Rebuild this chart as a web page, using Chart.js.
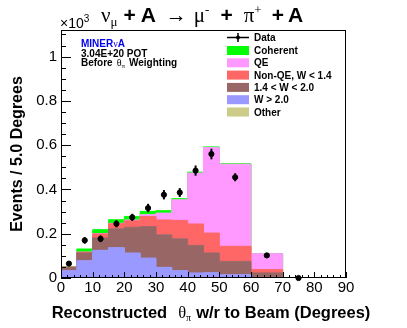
<!DOCTYPE html>
<html>
<head>
<meta charset="utf-8">
<script src="https://cdn.jsdelivr.net/npm/chart.js@4/dist/chart.umd.min.js"></script>
<style>
  html, body { margin: 0; padding: 0; background: #fff; }
  #wrap { width: 407px; height: 328px; }
</style>
</head>
<body>
<div id="wrap"><canvas id="chart" width="407" height="328"></canvas></div>
<script>
// bin edges in degrees (last bins are wider)
const binEdges = [0, 5, 10, 15, 20, 25, 30, 35, 40, 45, 50, 60, 70, 80, 90];

// MC components, events per 5 degrees, bottom to top of the stack
const otherVals    = [2, 2, 2, 2, 2, 2, 2, 2, 2, 2, 1, 1, 0, 0];
const wHighVals    = [31, 76, 123, 135, 111, 88, 46, 31, 21, 22, 14, 1, 0, 0];
const wMidVals     = [15, 35, 56, 85, 116, 142, 147, 144, 124, 89, 60, 21, 0, 0];
const nonQEVals    = [1, 3, 18, 23, 29, 46, 67, 83, 97, 90, 68, 15, 0, 0];
const qeVals       = [0, 1, 2, 2, 4, 8, 31, 93, 230, 386, 371, 72, 0, 0];
const coherentVals = [2, 14, 17, 16, 16, 15, 11, 5, 4, 3, 2, 0, 0, 0];

// data points
const dataX   = [2.5, 7.5, 12.5, 17.5, 22.5, 27.5, 32.5, 37.5, 42.5, 47.5, 55, 65, 75];
const dataY   = [65, 170, 177, 245, 274, 316, 376, 386, 485, 560, 455, 102, 0];
const dataErr = [6, 15, 15, 16, 16, 19, 21, 20, 23, 24, 18, 9, 0];

const SANS = '"Liberation Sans", Arial, Helvetica, sans-serif';
const SERIF = '"Liberation Serif", "Times New Roman", serif';

function stepPoints(vals) {
  const pts = vals.map((v, i) => ({ x: binEdges[i], y: v }));
  pts.push({ x: binEdges[binEdges.length - 1], y: vals[vals.length - 1] });
  return pts;
}

function layer(label, vals, color, fill, border) {
  return {
    label: label,
    data: stepPoints(vals),
    stepped: true,
    fill: fill,
    backgroundColor: color,
    borderColor: border || color,
    borderWidth: 1,
    pointRadius: 0,
    stack: 'mc'
  };
}

// draw a row of text pieces with different fonts
function drawRuns(ctx, runs, x, y, align) {
  ctx.textAlign = 'left';
  ctx.textBaseline = 'alphabetic';
  let total = 0;
  runs.forEach(r => {
    ctx.font = r.f;
    r.w = ctx.measureText(r.t).width;
    total += r.w + (r.gap || 0);
  });
  let cx = align === 'center' ? x - total / 2 : x;
  runs.forEach(r => {
    cx += r.gap || 0;
    ctx.font = r.f;
    ctx.fillStyle = r.color || '#000';
    ctx.fillText(r.t, cx, y + (r.dy || 0));
    cx += r.w;
  });
}

const legendItems = [
  { label: 'Coherent', color: '#00ff00' },
  { label: 'QE', color: '#ff99ff' },
  { label: 'Non-QE, W < 1.4', color: '#ff6666' },
  { label: '1.4 < W < 2.0', color: '#996666' },
  { label: 'W > 2.0', color: '#9999ff' },
  { label: 'Other', color: '#cccc88' }
];

const errorBars = {
  id: 'errorBars',
  afterDatasetsDraw(chart) {
    const { ctx, scales: { x, y } } = chart;
    ctx.save();
    ctx.strokeStyle = '#000';
    ctx.lineWidth = 2;
    dataX.forEach((xv, i) => {
      if (!dataErr[i]) return;
      const px = x.getPixelForValue(xv);
      ctx.beginPath();
      ctx.moveTo(px, y.getPixelForValue(dataY[i] - dataErr[i]));
      ctx.lineTo(px, y.getPixelForValue(dataY[i] + dataErr[i]));
      ctx.stroke();
    });
    ctx.restore();
  }
};

const decorations = {
  id: 'decorations',
  afterDraw(chart) {
    const { ctx, chartArea: a, scales: { x, y } } = chart;
    ctx.save();
    ctx.strokeStyle = '#000';
    ctx.lineWidth = 1;
    ctx.strokeRect(a.left + 0.5, a.top + 0.5, a.right - a.left - 1, a.bottom - a.top - 1);

    // ticks inside the frame, ROOT style
    ctx.beginPath();
    for (let v = 0; v <= 90; v += 2) {
      const px = Math.round(x.getPixelForValue(v)) + 0.5;
      const len = v % 10 === 0 ? 6 : 3;
      ctx.moveTo(px, a.bottom);
      ctx.lineTo(px, a.bottom - len);
    }
    for (let v = 0; v <= 1120; v += 50) {
      const py = Math.round(y.getPixelForValue(v)) + 0.5;
      const len = v % 200 === 0 ? 10 : 5;
      ctx.moveTo(a.left, py);
      ctx.lineTo(a.left + len, py);
    }
    ctx.stroke();

    // title
    const B = 'bold 21px ' + SANS, G = '21px ' + SERIF, s = '13px ' + SERIF;
    drawRuns(ctx, [
      { t: 'ν', f: G }, { t: 'μ', f: s, dy: 4 },
      { t: '+', f: B, gap: 6 }, { t: 'A', f: B, gap: 5 },
      { t: '→', f: G, gap: 10 },
      { t: 'μ', f: G, gap: 7 }, { t: '-', f: s, dy: -8 },
      { t: '+', f: B, gap: 11 },
      { t: 'π', f: G, gap: 11 }, { t: '+', f: s, dy: -8 },
      { t: '+', f: B, gap: 10 }, { t: 'A', f: B, gap: 4 }
    ], 202, 22, 'center');

    // exponent
    drawRuns(ctx, [
      { t: '×10', f: '14px ' + SANS }, { t: '3', f: '10px ' + SANS, dy: -6 }
    ], 60, 28);

    // x axis title
    drawRuns(ctx, [
      { t: 'Reconstructed', f: 'bold 16.5px ' + SANS },
      { t: 'θ', f: '16.5px ' + SERIF, gap: 11 }, { t: 'π', f: '10px ' + SERIF, dy: 3 },
      { t: 'w/r to Beam (Degrees)', f: 'bold 16.5px ' + SANS, gap: 5 }
    ], 211, 318, 'center');

    // labels inside the plot
    const blue = '#0000ee';
    drawRuns(ctx, [
      { t: 'MINER', f: 'bold 10px ' + SANS, color: blue },
      { t: 'ν', f: '10px ' + SERIF, color: blue },
      { t: 'A', f: 'bold 10px ' + SANS, color: blue }
    ], 81, 47);
    drawRuns(ctx, [{ t: '3.04E+20 POT', f: 'bold 10px ' + SANS }], 81, 57);
    drawRuns(ctx, [
      { t: 'Before', f: 'bold 10px ' + SANS },
      { t: 'θ', f: '10px ' + SERIF, gap: 4 }, { t: 'π', f: '7px ' + SERIF, dy: 2 },
      { t: 'Weighting', f: 'bold 10px ' + SANS, gap: 4 }
    ], 81, 66);

    // legend
    const lx = 227, lw = 22, tx = 254;
    ctx.beginPath();
    ctx.lineWidth = 1.5;
    ctx.moveTo(lx, 37.5); ctx.lineTo(lx + lw, 37.5);
    ctx.moveTo(lx + lw / 2, 33); ctx.lineTo(lx + lw / 2, 42);
    ctx.stroke();
    ctx.beginPath();
    ctx.arc(lx + lw / 2, 37.5, 2, 0, Math.PI * 2);
    ctx.fillStyle = '#000';
    ctx.fill();
    drawRuns(ctx, [{ t: 'Data', f: 'bold 10px ' + SANS }], tx, 41);
    legendItems.forEach((it, i) => {
      const base = 54 + i * 12.3;
      ctx.fillStyle = it.color;
      ctx.fillRect(lx, base - 8, lw, 9);
      drawRuns(ctx, [{ t: it.label, f: 'bold 10px ' + SANS }], tx, base);
    });
    ctx.restore();
  }
};

new Chart(document.getElementById('chart'), {
  type: 'line',
  data: {
    datasets: [
      layer('Other', otherVals, '#cccc88', 'origin'),
      layer('W > 2.0', wHighVals, '#9999ff', '-1'),
      layer('1.4 < W < 2.0', wMidVals, '#996666', '-1'),
      layer('Non-QE, W < 1.4', nonQEVals, '#ff6666', '-1'),
      layer('QE', qeVals, '#ff99ff', '-1'),
      layer('Coherent', coherentVals, '#00ff00', '-1'),
      {
        label: 'Data',
        data: dataX.map((xv, i) => ({ x: xv, y: dataY[i] })),
        showLine: false,
        fill: false,
        pointRadius: 2.6,
        pointBackgroundColor: '#000',
        pointBorderColor: '#000',
        stack: 'data',
        order: -1,
        clip: false
      }
    ]
  },
  options: {
    responsive: false,
    animation: false,
    layout: { padding: { top: 30, right: 61, left: 0, bottom: 0 } },
    plugins: { legend: { display: false }, tooltip: { enabled: false } },
    scales: {
      x: {
        type: 'linear',
        min: 0,
        max: 90,
        grid: { display: false, drawTicks: false },
        border: { display: false },
        ticks: { stepSize: 10, padding: 1, color: '#000', font: { family: SANS, size: 15 } },
        afterFit: s => { s.height = 50; }
      },
      y: {
        stacked: true,
        min: 0,
        max: 1120,
        grid: { display: false, drawTicks: false },
        border: { display: false },
        ticks: {
          stepSize: 200,
          padding: 4,
          color: '#000',
          font: { family: SANS, size: 15 },
          callback: v => (v % 200 === 0 ? String(v / 1000) : '')
        },
        title: {
          display: true,
          text: 'Events / 5.0 Degrees',
          color: '#000',
          font: { family: SANS, size: 16, weight: 'bold' },
          padding: { top: 8, bottom: 0 }
        },
        afterFit: s => { s.width = 61; }
      }
    }
  },
  plugins: [errorBars, decorations]
});
</script>
</body>
</html>
